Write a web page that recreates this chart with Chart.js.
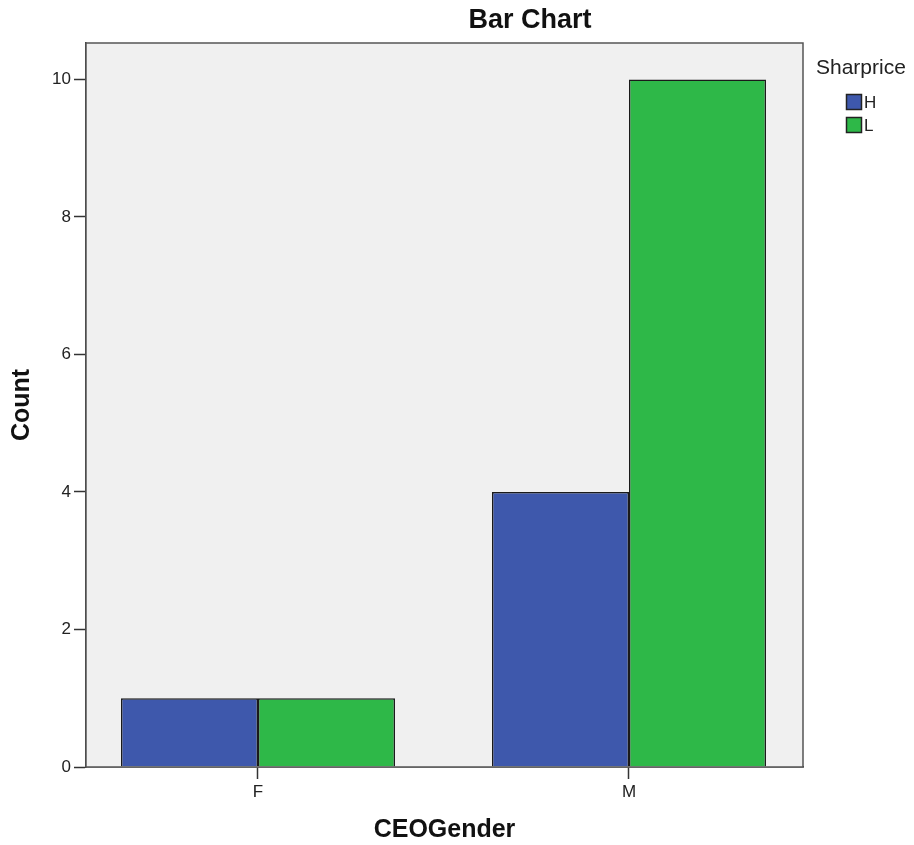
<!DOCTYPE html>
<html>
<head>
<meta charset="utf-8">
<script src="https://cdn.jsdelivr.net/npm/chart.js@4"></script>
<style>
  body { margin: 0; background: #fff; }
  canvas { display: block; }
</style>
</head>
<body>
<canvas id="barChart" width="914" height="845"></canvas>
<script>
/**
 * Data
 */
const categories = ['F', 'M'];
const seriesNames = ['H', 'L'];
const hCounts = [1, 4];
const lCounts = [1, 10];
const yTicks = [0, 2, 4, 6, 8, 10];

const H_COLOR = '#3e58ac';
const L_COLOR = '#2eb848';
const FONT = '"Liberation Sans", Arial, sans-serif';

//////////////////////////////////////////////////////////////////

/**
 * Grey plot background and frame
 */
const plotFrame = {
  id: 'plotFrame',
  beforeDatasetsDraw(chart) {
    const a = chart.chartArea;
    const ctx = chart.ctx;
    ctx.save();
    ctx.fillStyle = '#f0f0f0';
    ctx.fillRect(a.left, a.top, a.right - a.left, a.bottom - a.top);
    ctx.restore();
  },
  afterDraw(chart) {
    const a = chart.chartArea;
    const ctx = chart.ctx;
    ctx.save();
    ctx.strokeStyle = '#555';
    ctx.lineWidth = 1.5;
    ctx.strokeRect(a.left, a.top, a.right - a.left, a.bottom - a.top);
    ctx.restore();
  }
};

/**
 * Title and legend on the right, drawn like SPSS
 */
const sideLegend = {
  id: 'sideLegend',
  afterDraw(chart) {
    const ctx = chart.ctx;
    const x = chart.chartArea.right + 13;
    ctx.save();
    ctx.fillStyle = '#111';
    ctx.textAlign = 'center';
    ctx.textBaseline = 'middle';
    ctx.font = 'bold 27px ' + FONT;
    ctx.fillText('Bar Chart', 530, 21);

    ctx.textAlign = 'left';
    ctx.fillStyle = '#222';
    ctx.font = '21px ' + FONT;
    ctx.fillText('Sharprice', x, 68);
    ctx.font = '17px ' + FONT;
    chart.data.datasets.forEach(function (ds, i) {
      let y = 94 + i * 23;
      ctx.fillStyle = ds.backgroundColor;
      ctx.fillRect(x + 30, y, 16, 16);
      ctx.strokeStyle = '#222';
      ctx.lineWidth = 1.5;
      ctx.strokeRect(x + 30.5, y + 0.5, 15, 15);
      ctx.fillStyle = '#222';
      ctx.fillText(ds.label, x + 48, y + 9);
    });
    ctx.restore();
  }
};

function toPoints(values) {
  return values.map(function (v, i) { return {x: i, y: v}; });
}

const data = {
  datasets: [
    {
      label: seriesNames[0],
      data: toPoints(hCounts),
      backgroundColor: H_COLOR,
      borderColor: '#1a1a1a',
      borderWidth: 1.5,
      categoryPercentage: 0.7385,
      barPercentage: 1
    },
    {
      label: seriesNames[1],
      data: toPoints(lCounts),
      backgroundColor: L_COLOR,
      borderColor: '#1a1a1a',
      borderWidth: 1.5,
      categoryPercentage: 0.7385,
      barPercentage: 1
    }
  ]
};

const config = {
  type: 'bar',
  data: data,
  plugins: [plotFrame, sideLegend],
  options: {
    responsive: false,
    animation: false,
    layout: { padding: { left: 0, right: 111, top: 43, bottom: 0 } },
    plugins: {
      legend: { display: false },
      tooltip: { enabled: false },
      title: { display: false }
    },
    scales: {
      x: {
        type: 'linear',
        min: -0.4636,
        max: 1.469,
        offset: false,
        grid: { offset: false, drawOnChartArea: false, drawTicks: true, tickLength: 12, tickWidth: 1.5, color: '#333' },
        border: { display: true, color: '#333', width: 1.5 },
        afterBuildTicks: function (scale) {
          scale.ticks = categories.map(function (c, i) { return {value: i}; });
        },
        afterFit: function (scale) { scale.height = 78; },
        ticks: {
          color: '#222',
          padding: 3,
          font: { family: FONT, size: 17 },
          callback: function (v) { return categories[v]; }
        },
        title: {
          display: true,
          text: 'CEOGender',
          color: '#111',
          font: { family: FONT, size: 25, weight: 'bold' },
          padding: { top: 0, bottom: 0 }
        }
      },
      y: {
        min: 0,
        max: 10.53,
        grid: { drawOnChartArea: false, drawTicks: true, tickLength: 12, tickWidth: 1.5, color: '#333' },
        border: { display: true, color: '#333', width: 1.5 },
        afterBuildTicks: function (scale) {
          scale.ticks = yTicks.map(function (v) { return {value: v}; });
        },
        afterFit: function (scale) { scale.width = 86; },
        ticks: {
          color: '#222',
          padding: 3,
          font: { family: FONT, size: 17 }
        },
        title: {
          display: true,
          text: 'Count',
          color: '#111',
          font: { family: FONT, size: 25, weight: 'bold' },
          padding: { top: 7, bottom: 0 }
        }
      }
    }
  }
};

new Chart(document.getElementById('barChart'), config);
</script>
</body>
</html>
